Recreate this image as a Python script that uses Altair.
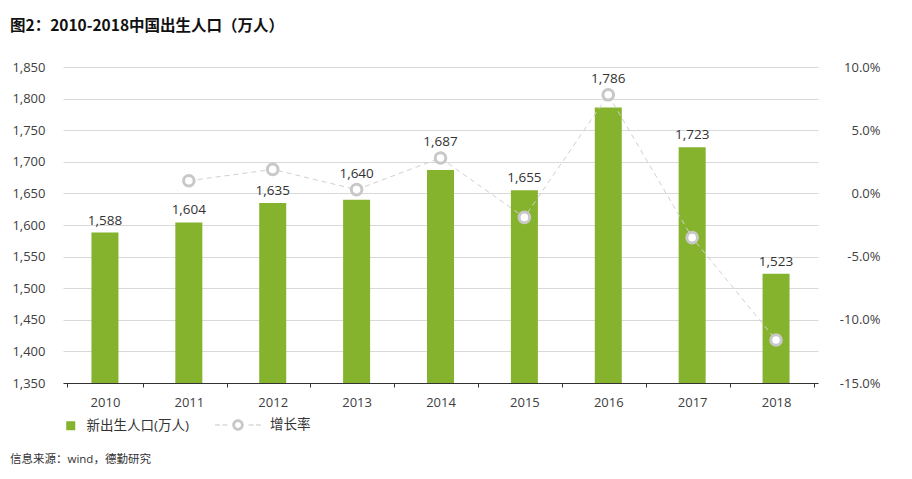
import altair as alt
import pandas as pd

years = ["2010", "2011", "2012", "2013", "2014", "2015", "2016", "2017", "2018"]
births = [1588, 1604, 1635, 1640, 1687, 1655, 1786, 1723, 1523]
growth = [None, 0.010, 0.019, 0.003, 0.028, -0.019, 0.078, -0.035, -0.116]

title_text = "图2：2010-2018中国出生人口（万人）"
source_text = "信息来源：wind，德勤研究"
bar_name = "新出生人口(万人)"
line_name = "增长率"

GREEN = "#86b32d"
FONT = "Open Sans, Noto Sans CJK SC"
TXT = "#404040"

df = pd.DataFrame({"year": years, "births": births, "growth": growth,
                   "s1": [bar_name] * 9, "s2": [line_name] * 9})

x = alt.X("year:N", title=None, sort=years,
          axis=alt.Axis(labelAngle=0, tickBand="extent", domainColor="#333333",
                        tickColor="#333333", tickSize=4, labelPadding=9,
                        labelFontSize=13, labelColor=TXT, labelFont=FONT, grid=False))

y_left_scale = alt.Scale(domain=[1350, 1850], zero=False, nice=False)
y_left = alt.Y("births:Q", title=None, scale=y_left_scale,
               axis=alt.Axis(values=list(range(1350, 1851, 50)), format=",.0f", grid=True,
                             gridColor="#d9d9d9", domain=False, ticks=False,
                             labelPadding=18, labelFontSize=13, labelColor=TXT, labelFont=FONT))

legend_path = ("M-1,-0.025H-0.78V0.025H-1Z M-0.68,-0.025H-0.46V0.025H-0.68Z "
               "M0.46,-0.025H0.68V0.025H0.46Z M0.78,-0.025H1V0.025H0.78Z "
               "M0.25,0A0.25,0.25 0 1,0 -0.25,0A0.25,0.25 0 1,0 0.25,0Z "
               "M0.13,0A0.13,0.13 0 1,1 -0.13,0A0.13,0.13 0 1,1 0.13,0Z")

bars = alt.Chart(df).mark_bar(size=27, color=GREEN, clip=True).encode(
    x=x, y=y_left,
    fill=alt.Fill("s1:N", scale=alt.Scale(domain=[bar_name], range=[GREEN]),
                  legend=alt.Legend(title=None, orient="none", legendX=1, legendY=352,
                                    symbolType="square", symbolSize=81, labelOffset=9,
                                    labelFontSize=13.5, labelColor="#333333", labelFont=FONT,
                                    padding=0, symbolStrokeWidth=0)),
)

# label anchor: lift the value label above the growth marker when the marker sits on the bar top
PX = 500.0 / 316.0
bar_text = alt.Chart(df).transform_calculate(
    geq="1350 + (datum.growth + 0.15) / 0.25 * 500",
).transform_calculate(
    diff="(datum.births - datum.geq) / %f" % PX,
).transform_calculate(
    label_y="isValid(datum.growth) && datum.diff > -28 && datum.diff < 10 ? datum.geq + 4 * %f : datum.births" % PX,
).mark_text(dy=-8, fontSize=13.5, color="#333333", font=FONT, baseline="alphabetic").encode(
    x=x, y=alt.Y("label_y:Q", scale=y_left_scale, axis=None),
    text=alt.Text("births:Q", format=",.0f"),
)

y_right = alt.Y("growth:Q", title=None,
                scale=alt.Scale(domain=[-0.15, 0.10], nice=False, zero=False),
                axis=alt.Axis(orient="right", values=[-0.15, -0.10, -0.05, 0.0, 0.05, 0.10],
                              labelExpr="(datum.value < -0.0001 ? '-' : '') + format(abs(datum.value), '.1%')",
                              grid=False, domain=False, ticks=False, labelAlign="right",
                              labelPadding=62, labelFontSize=13, labelColor=TXT, labelFont=FONT))

line = alt.Chart(df).mark_line(strokeDash=[5, 4], strokeWidth=1).encode(
    x=x, y=y_right,
    stroke=alt.Stroke("s2:N", scale=alt.Scale(domain=[line_name], range=["#d0d0d0"]),
                      legend=alt.Legend(title=None, orient="none", legendX=152, legendY=335,
                                        symbolType=legend_path, symbolSize=2116,
                                        symbolFillColor="#c8c8c8", symbolStrokeWidth=0,
                                        labelOffset=9, labelFontSize=13.5, labelColor="#333333",
                                        labelFont=FONT, padding=0)),
)

points = alt.Chart(df).mark_point(filled=False, shape="circle", size=113, strokeWidth=3,
                                  fill="white", fillOpacity=1, color="#c8c8c8", opacity=1).encode(
    x=x, y=y_right
)

left = alt.layer(bars)
right = alt.layer(line, points)

src = alt.Chart(pd.DataFrame({"t": [source_text]})).mark_text(
    align="left", baseline="middle", fontSize=11.5, color="#333333", font=FONT
).encode(x=alt.value(-53), y=alt.value(393), text="t:N")

chart = alt.layer(left, right, bar_text, src).resolve_scale(y="independent").properties(
    width=755, height=316,
    title=alt.TitleParams(title_text, anchor="start", frame="group", fontSize=15.5,
                          fontWeight="bold", font="Noto Sans CJK SC", color="#111111",
                          dx=-53, offset=27),
    padding={"left": 63, "top": 67, "right": 94, "bottom": 96},
    autosize=alt.AutoSizeParams(type="none"),
    background="white",
).configure_view(stroke=None)

chart.save("out.html", embed_options={"renderer": "svg", "actions": False})
